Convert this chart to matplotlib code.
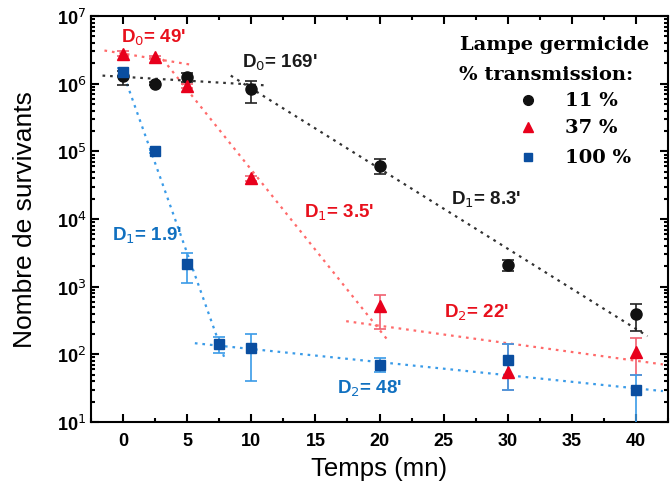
import numpy as np
import matplotlib.pyplot as plt
from matplotlib.ticker import LogLocator, MultipleLocator, NullFormatter

plt.rcParams['font.family'] = ['Liberation Sans', 'DejaVu Sans']

# 11 % transmission (black circles)
t_11 = [0, 2.5, 5, 10, 20, 30, 40]
n_11 = [1.3e6, 1.0e6, 1.25e6, 8.5e5, 6.0e4, 2.1e3, 3.9e2]
lo_11 = [9.5e5, 9.5e5, 1.05e6, 5.2e5, 4.6e4, 1.7e3, 2.2e2]
hi_11 = [1.55e6, 1.05e6, 1.45e6, 1.1e6, 7.8e4, 2.5e3, 5.5e2]

# 37 % transmission (red triangles)
t_37 = [0, 2.5, 5, 10, 20, 30, 40]
n_37 = [2.8e6, 2.45e6, 9.4e5, 4.0e4, 5.2e2, 55, 110]
lo_37 = [2.6e6, 2.3e6, 8.8e5, 3.6e4, 2.35e2, 30, 50]
hi_37 = [3.0e6, 2.6e6, 1.0e6, 4.4e4, 7.6e2, 143, 175]

# 100 % transmission (blue squares)
t_100 = [0, 2.5, 5, 7.5, 10, 20, 30, 40]
n_100 = [1.5e6, 1.0e5, 2.2e3, 143, 123, 70, 83, 30]
lo_100 = [1.3e6, 9.6e4, 1.15e3, 105, 41, 54, 30, 5]
hi_100 = [1.7e6, 1.04e5, 3.2e3, 180, 203, 88, 143, 50]

# fitted lines: (t_start, N_start, t_end, N_end)
fit_black = [(-1.6, 1.32e6, 11, 9.5e5), (8.4, 1.32e6, 40.9, 186)]
fit_red = [(-1.45, 3.1e6, 5.4, 1.9e6), (3.1, 2.3e6, 20.7, 157), (17.4, 309, 42.1, 71)]
fit_blue = [(0.3, 1.0e6, 8.0, 79), (5.6, 146, 42.1, 28.6)]

# annotations
ann_text = ["D$_0$= 49'", "D$_0$= 169'", "D$_1$= 8.3'", "D$_1$= 3.5'",
            "D$_1$= 1.9'", "D$_2$= 22'", "D$_2$= 48'"]
ann_t = [-0.15, 9.3, 25.6, 14.1, -0.85, 25.0, 16.7]
ann_n = [4.9e6, 2.1e6, 2.0e4, 1.27e4, 5.9e3, 430, 32]
ann_col = ['#e8101c', '#1a1a1a', '#1a1a1a', '#e8101c', '#1070c0', '#e8101c', '#1070c0']

fig = plt.figure(figsize=(6.71, 4.89), dpi=100)
ax = fig.add_axes([0.1356, 0.135, 0.86, 0.83])

for fits, c in [(fit_black, '#333333'), (fit_red, '#ff6a6a'), (fit_blue, '#3a9be8')]:
    for t0, n0, t1, n1 in fits:
        ax.plot([t0, t1], [n0, n1], ls=(0, (1.2, 2.2)), color=c, lw=1.6, zorder=2)

def errbars(t, n, lo, hi, mcol, ecol, marker, ms, label):
    n = np.array(n)
    yerr = [n - np.array(lo), np.array(hi) - n]
    ax.errorbar(t, n, yerr=yerr, fmt='none', ecolor=ecol, elinewidth=1.2,
                capsize=4, capthick=1.2, zorder=3)
    ax.plot(t, n, ls='none', marker=marker, color=mcol, ms=ms, zorder=4, label=label)

errbars(t_11, n_11, lo_11, hi_11, '#111111', '#222222', 'o', 8, '11 %')
errbars(t_37, n_37, lo_37, hi_37, '#e8001c', '#f06070', '^', 9, '37 %')
errbars(t_100, n_100, lo_100, hi_100, '#0a4ea0', '#3a9be8', 's', 6.5, '100 %')

for s, t, n, c in zip(ann_text, ann_t, ann_n, ann_col):
    ax.text(t, n, s, color=c, fontsize=13.5, fontweight='bold', va='center', ha='left')

ax.set_yscale('log')
ax.set_xlim(-2.5, 42.5)
ax.set_ylim(1e1, 1e7)
ax.xaxis.set_major_locator(MultipleLocator(5))
ax.xaxis.set_minor_locator(MultipleLocator(2.5))
ax.yaxis.set_minor_locator(LogLocator(base=10, subs=np.arange(2, 10), numticks=20))
ax.yaxis.set_minor_formatter(NullFormatter())
ax.set_yticks([10.0 ** k for k in range(1, 8)])
ax.set_yticklabels(['10$^{%d}$' % k for k in range(1, 8)])
ax.tick_params(which='both', direction='in', top=True, right=True, labelsize=13, width=1.5)
ax.tick_params(which='major', length=6)
ax.tick_params(which='minor', length=3)
ax.tick_params(axis='x', pad=7)
for lab in ax.get_xticklabels() + ax.get_yticklabels():
    lab.set_fontweight('bold')
for sp in ax.spines.values():
    sp.set_linewidth(1.5)

ax.set_xlabel('Temps (mn)', fontsize=18.5, labelpad=5)
ax.set_ylabel('Nombre de survivants', fontsize=19, labelpad=14)

# legend block
serif = dict(family='DejaVu Serif', fontweight='bold', fontsize=14, va='center')
fig.text(0.685, 0.908, 'Lampe germicide', **serif)
fig.text(0.684, 0.847, '% transmission:', **serif)
leg_y = [0.793, 0.738, 0.677]
leg_m = ['o', '^', 's']
leg_c = ['#111111', '#e8001c', '#0a4ea0']
leg_l = ['11 %', '37 %', '100 %']
for y, m, c, l in zip(leg_y, leg_m, leg_c, leg_l):
    fig.lines.append(plt.Line2D([0.787], [y], marker=m, color=c, ms=7 if m != 's' else 6,
                                ls='none', transform=fig.transFigure))
    fig.text(0.842, y, l, **serif)

fig.savefig('out.png', dpi=100)
